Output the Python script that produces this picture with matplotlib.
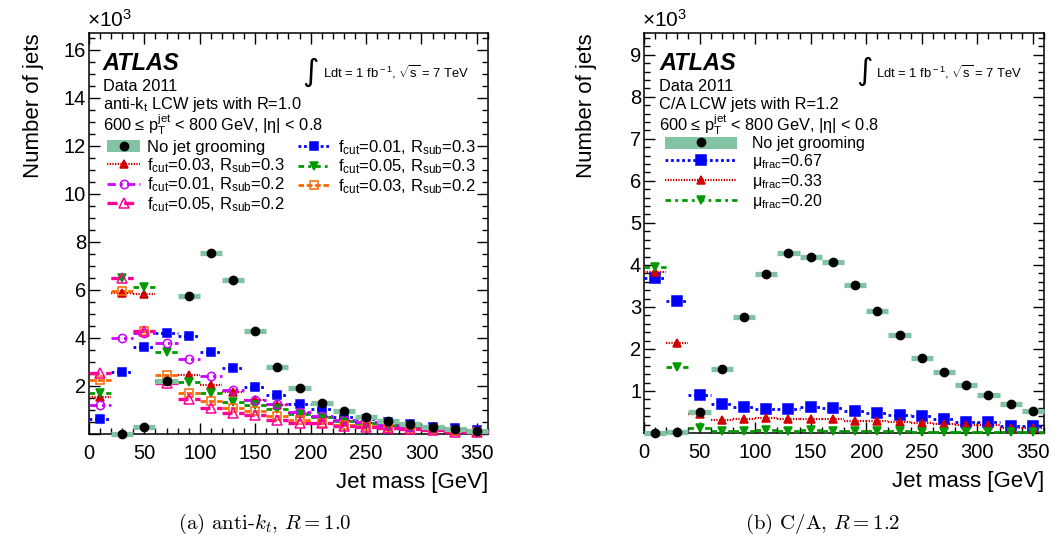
import matplotlib.pyplot as plt
import matplotlib.ticker as mticker
import numpy as np
from matplotlib.lines import Line2D
from matplotlib.patches import Patch

plt.rcParams['font.family'] = ['Liberation Sans', 'DejaVu Sans']
plt.rcParams['mathtext.fontset'] = 'custom'
plt.rcParams['mathtext.rm'] = 'Liberation Sans'
plt.rcParams['mathtext.it'] = 'Liberation Sans:italic'
plt.rcParams['mathtext.bf'] = 'Liberation Sans:bold'

# jet mass bin centres [GeV], bins are 20 GeV wide
mass_bins = [10, 30, 50, 70, 90, 110, 130, 150, 170, 190, 210, 230, 250, 270, 290, 310, 330, 350]
bin_half_width = 10

# (a) anti-kt R=1.0, number of jets in thousands
akt_ungroomed = [np.nan, 0.02, 0.28, 2.20, 5.76, 7.53, 6.40, 4.29, 2.79, 1.90, 1.31, 0.96, 0.69, 0.54, 0.40, 0.30, 0.20, 0.12]
akt_f001_r03 = [0.61, 2.60, 3.64, 4.22, 4.08, 3.42, 2.74, 1.97, 1.64, 1.26, 1.03, 0.69, 0.64, 0.52, 0.43, 0.31, 0.23, 0.15]
akt_f003_r03 = [1.53, 5.86, 5.82, 2.20, 2.46, 2.04, 1.74, 1.42, 1.20, 0.88, 0.70, 0.55, 0.45, 0.35, 0.28, 0.20, 0.14, 0.10]
akt_f005_r03 = [1.72, 6.51, 6.11, 3.43, 2.18, 1.69, 1.35, 1.20, 1.05, 0.85, 0.70, 0.55, 0.45, 0.36, 0.28, 0.20, 0.14, 0.10]
akt_f001_r02 = [1.22, 4.01, 4.19, 3.78, 3.13, 2.43, 1.82, 1.42, 1.24, 0.92, 0.75, 0.58, 0.48, 0.38, 0.30, 0.22, 0.16, 0.11]
akt_f003_r02 = [2.25, 5.97, 4.31, 2.46, 1.72, 1.39, 1.07, 0.97, 0.75, 0.58, 0.47, 0.38, 0.33, 0.27, 0.22, 0.16, 0.12, 0.08]
akt_f005_r02 = [2.53, 6.51, 4.29, 2.14, 1.44, 1.07, 0.86, 0.80, 0.60, 0.47, 0.44, 0.33, 0.30, 0.25, 0.20, 0.15, 0.10, 0.07]

# (b) C/A R=1.2, number of jets in thousands
ca_ungroomed = [0.0, 0.03, 0.50, 1.52, 2.77, 3.78, 4.29, 4.19, 4.06, 3.52, 2.90, 2.34, 1.79, 1.44, 1.15, 0.90, 0.69, 0.52]
ca_mu067 = [3.68, 3.14, 0.91, 0.70, 0.62, 0.57, 0.57, 0.61, 0.60, 0.53, 0.48, 0.42, 0.41, 0.34, 0.27, 0.25, 0.16, 0.16]
ca_mu033 = [3.82, 2.14, 0.44, 0.31, 0.33, 0.35, 0.34, 0.34, 0.33, 0.29, 0.29, 0.26, 0.24, 0.21, 0.18, 0.18, 0.12, 0.11]
ca_mu020 = [3.96, 1.56, 0.11, 0.05, 0.05, 0.06, 0.05, 0.06, 0.05, 0.04, 0.05, 0.04, 0.03, 0.03, 0.03, 0.03, 0.02, 0.02]

band_green = '#82c3a3'


def draw_series(ax, y, color, ls, lw, marker, ms, filled=True):
    mfc = color if filled else 'none'
    cont = ax.errorbar(mass_bins, y, xerr=bin_half_width, fmt=marker, color=color,
                       ms=ms, mfc=mfc, mec=color, mew=1.1, elinewidth=lw, capsize=0,
                       clip_on=False, zorder=3)
    cont[2][0].set_linestyle(ls)
    return Line2D([], [], color=color, ls=ls, lw=lw, marker=marker, ms=ms, mfc=mfc, mec=color, mew=1.1)


def draw_ungroomed(ax, y, ms=6):
    ax.errorbar(mass_bins, y, xerr=bin_half_width, fmt='o', color='black', ms=ms,
                ecolor=band_green, elinewidth=3.8, capsize=0, clip_on=False, zorder=4)
    return (Patch(facecolor=band_green, edgecolor='none'),
            Line2D([], [], color='black', marker='o', ls='none', ms=ms))


def style_axes(ax, ymax, ymajor, yminor):
    ax.set_xlim(0, 360)
    ax.set_ylim(0, ymax)
    ax.xaxis.set_major_locator(mticker.MultipleLocator(50))
    ax.xaxis.set_minor_locator(mticker.MultipleLocator(10))
    ax.yaxis.set_major_locator(mticker.MultipleLocator(ymajor))
    ax.yaxis.set_minor_locator(mticker.MultipleLocator(yminor))
    ax.yaxis.set_major_formatter(mticker.FuncFormatter(lambda v, p: '' if v == 0 else '%g' % v))
    ax.tick_params(which='both', direction='in', top=True, right=True, width=1.0, labelsize=14.5)
    ax.tick_params(which='major', length=8)
    ax.tick_params(which='minor', length=4.5)
    ax.tick_params(axis='x', pad=7)
    ax.tick_params(axis='y', pad=2)
    for s in ax.spines.values():
        s.set_linewidth(1.1)
    ax.set_xlabel('Jet mass [GeV]', fontsize=16, loc='right')
    ax.xaxis.set_label_coords(1.0, -0.095)
    ax.set_ylabel('Number of jets', fontsize=16, loc='top')
    ax.text(-0.005, 1.015, r'$\times$10$^{3}$', transform=ax.transAxes, fontsize=15,
            ha='left', va='baseline')


def header(ax, x0, jet_text, lumi_right, lumi_int):
    ax.text(x0, 0.908, 'ATLAS', transform=ax.transAxes, fontsize=17, fontweight='bold',
            fontstyle='italic', va='baseline')
    ax.text(x0, 0.855, 'Data 2011', transform=ax.transAxes, fontsize=11.8, va='baseline')
    ax.text(x0, 0.811, jet_text, transform=ax.transAxes, fontsize=11.8, va='baseline')
    ax.text(x0, 0.756, r'600 ≤ p$_{\rm T}^{\rm jet}$ < 800 GeV, |η| < 0.8', transform=ax.transAxes,
            fontsize=11.8, va='baseline')
    ax.text(lumi_int, 0.903, r'$\int$', transform=ax.transAxes, fontsize=16, va='center', ha='left',
            math_fontfamily='dejavusans')
    ax.text(lumi_right, 0.903, r'Ldt = 1 fb$^{\rm -1}$, $\sqrt{\rm s}$ = 7 TeV', transform=ax.transAxes,
            fontsize=9.4, va='center', ha='right')


fig = plt.figure(figsize=(10.54, 5.38), dpi=100)
ax_a = fig.add_axes([0.0844, 0.1933, 0.3786, 0.7454])
ax_b = fig.add_axes([0.611, 0.1952, 0.3795, 0.7435])

# ---- (a) anti-kt ----
h_f001_r03 = draw_series(ax_a, akt_f001_r03, '#0000ff', (0, (1, 1)), 2.0, 's', 5.5)
h_f003_r03 = draw_series(ax_a, akt_f003_r03, '#d00000', (0, (0.6, 0.6)), 1.6, '^', 5.5)
h_f005_r03 = draw_series(ax_a, akt_f005_r03, '#009a00', (0, (2, 1.5, 1, 1.5)), 2.0, 'v', 5.5)
h_f001_r02 = draw_series(ax_a, akt_f001_r02, '#cc00ff', (0, (3, 1.5, 1, 1.5)), 2.0, 'o', 6, filled=False)
h_f003_r02 = draw_series(ax_a, akt_f003_r02, '#ff6600', (0, (2, 1)), 2.0, 's', 6, filled=False)
h_f005_r02 = draw_series(ax_a, akt_f005_r02, '#ff0099', (0, (3, 2)), 2.4, '^', 6.5, filled=False)
h_ung_a = draw_ungroomed(ax_a, akt_ungroomed)
style_axes(ax_a, 16.7, 2, 0.5)
ax_a.yaxis.set_label_coords(-0.113, 1.0)
header(ax_a, 0.035, r'anti-k$_{\rm t}$ LCW jets with R=1.0', 0.953, 0.533)

handles_a = [h_ung_a, h_f003_r03, h_f001_r02, h_f005_r02, h_f001_r03, h_f005_r03, h_f003_r02]
labels_a = ['No jet grooming',
            r'f$_{\rm cut}$=0.03, R$_{\rm sub}$=0.3',
            r'f$_{\rm cut}$=0.01, R$_{\rm sub}$=0.2',
            r'f$_{\rm cut}$=0.05, R$_{\rm sub}$=0.2',
            r'f$_{\rm cut}$=0.01, R$_{\rm sub}$=0.3',
            r'f$_{\rm cut}$=0.05, R$_{\rm sub}$=0.3',
            r'f$_{\rm cut}$=0.03, R$_{\rm sub}$=0.2']
ax_a.legend(handles_a, labels_a, ncol=2, loc='upper left', bbox_to_anchor=(0.045, 0.738),
            frameon=False, fontsize=12, handlelength=2.0, handletextpad=0.4, columnspacing=0.8,
            labelspacing=0.05, borderpad=0, borderaxespad=0, numpoints=1)

# ---- (b) C/A ----
h_mu067 = draw_series(ax_b, ca_mu067, '#0000ff', (0, (1, 1)), 2.0, 's', 6.5)
h_mu033 = draw_series(ax_b, ca_mu033, '#d00000', (0, (0.6, 0.6)), 1.6, '^', 6)
h_mu020 = draw_series(ax_b, ca_mu020, '#009a00', (0, (2, 1.5, 1, 1.5)), 2.0, 'v', 6)
h_ung_b = draw_ungroomed(ax_b, ca_ungroomed)
style_axes(ax_b, 9.52, 1, 0.2)
ax_b.yaxis.set_label_coords(-0.1175, 1.0)
header(ax_b, 0.0375, 'C/A LCW jets with R=1.2', 0.946, 0.530)

handles_b = [h_ung_b, h_mu067, h_mu033, h_mu020]
labels_b = ['No jet grooming', r'μ$_{\rm frac}$=0.67', r'μ$_{\rm frac}$=0.33', r'μ$_{\rm frac}$=0.20']
ax_b.legend(handles_b, labels_b, loc='upper left', bbox_to_anchor=(0.0525, 0.742),
            frameon=False, fontsize=11.5, handlelength=4.5, handletextpad=0.95, handleheight=0.8,
            labelspacing=0.05, borderpad=0, borderaxespad=0, numpoints=1)

# captions
fig.text(265 / 1054, 1 - 524 / 538, r'(a) anti-$k_t$, $R = 1.0$', fontsize=15, family='cmr10',
         math_fontfamily='cm', ha='center', va='center')
fig.text(823 / 1054, 1 - 524 / 538, r'(b) C/A, $R = 1.2$', fontsize=15, family='cmr10',
         math_fontfamily='cm', ha='center', va='center')

fig.savefig('out.png', dpi=100)
